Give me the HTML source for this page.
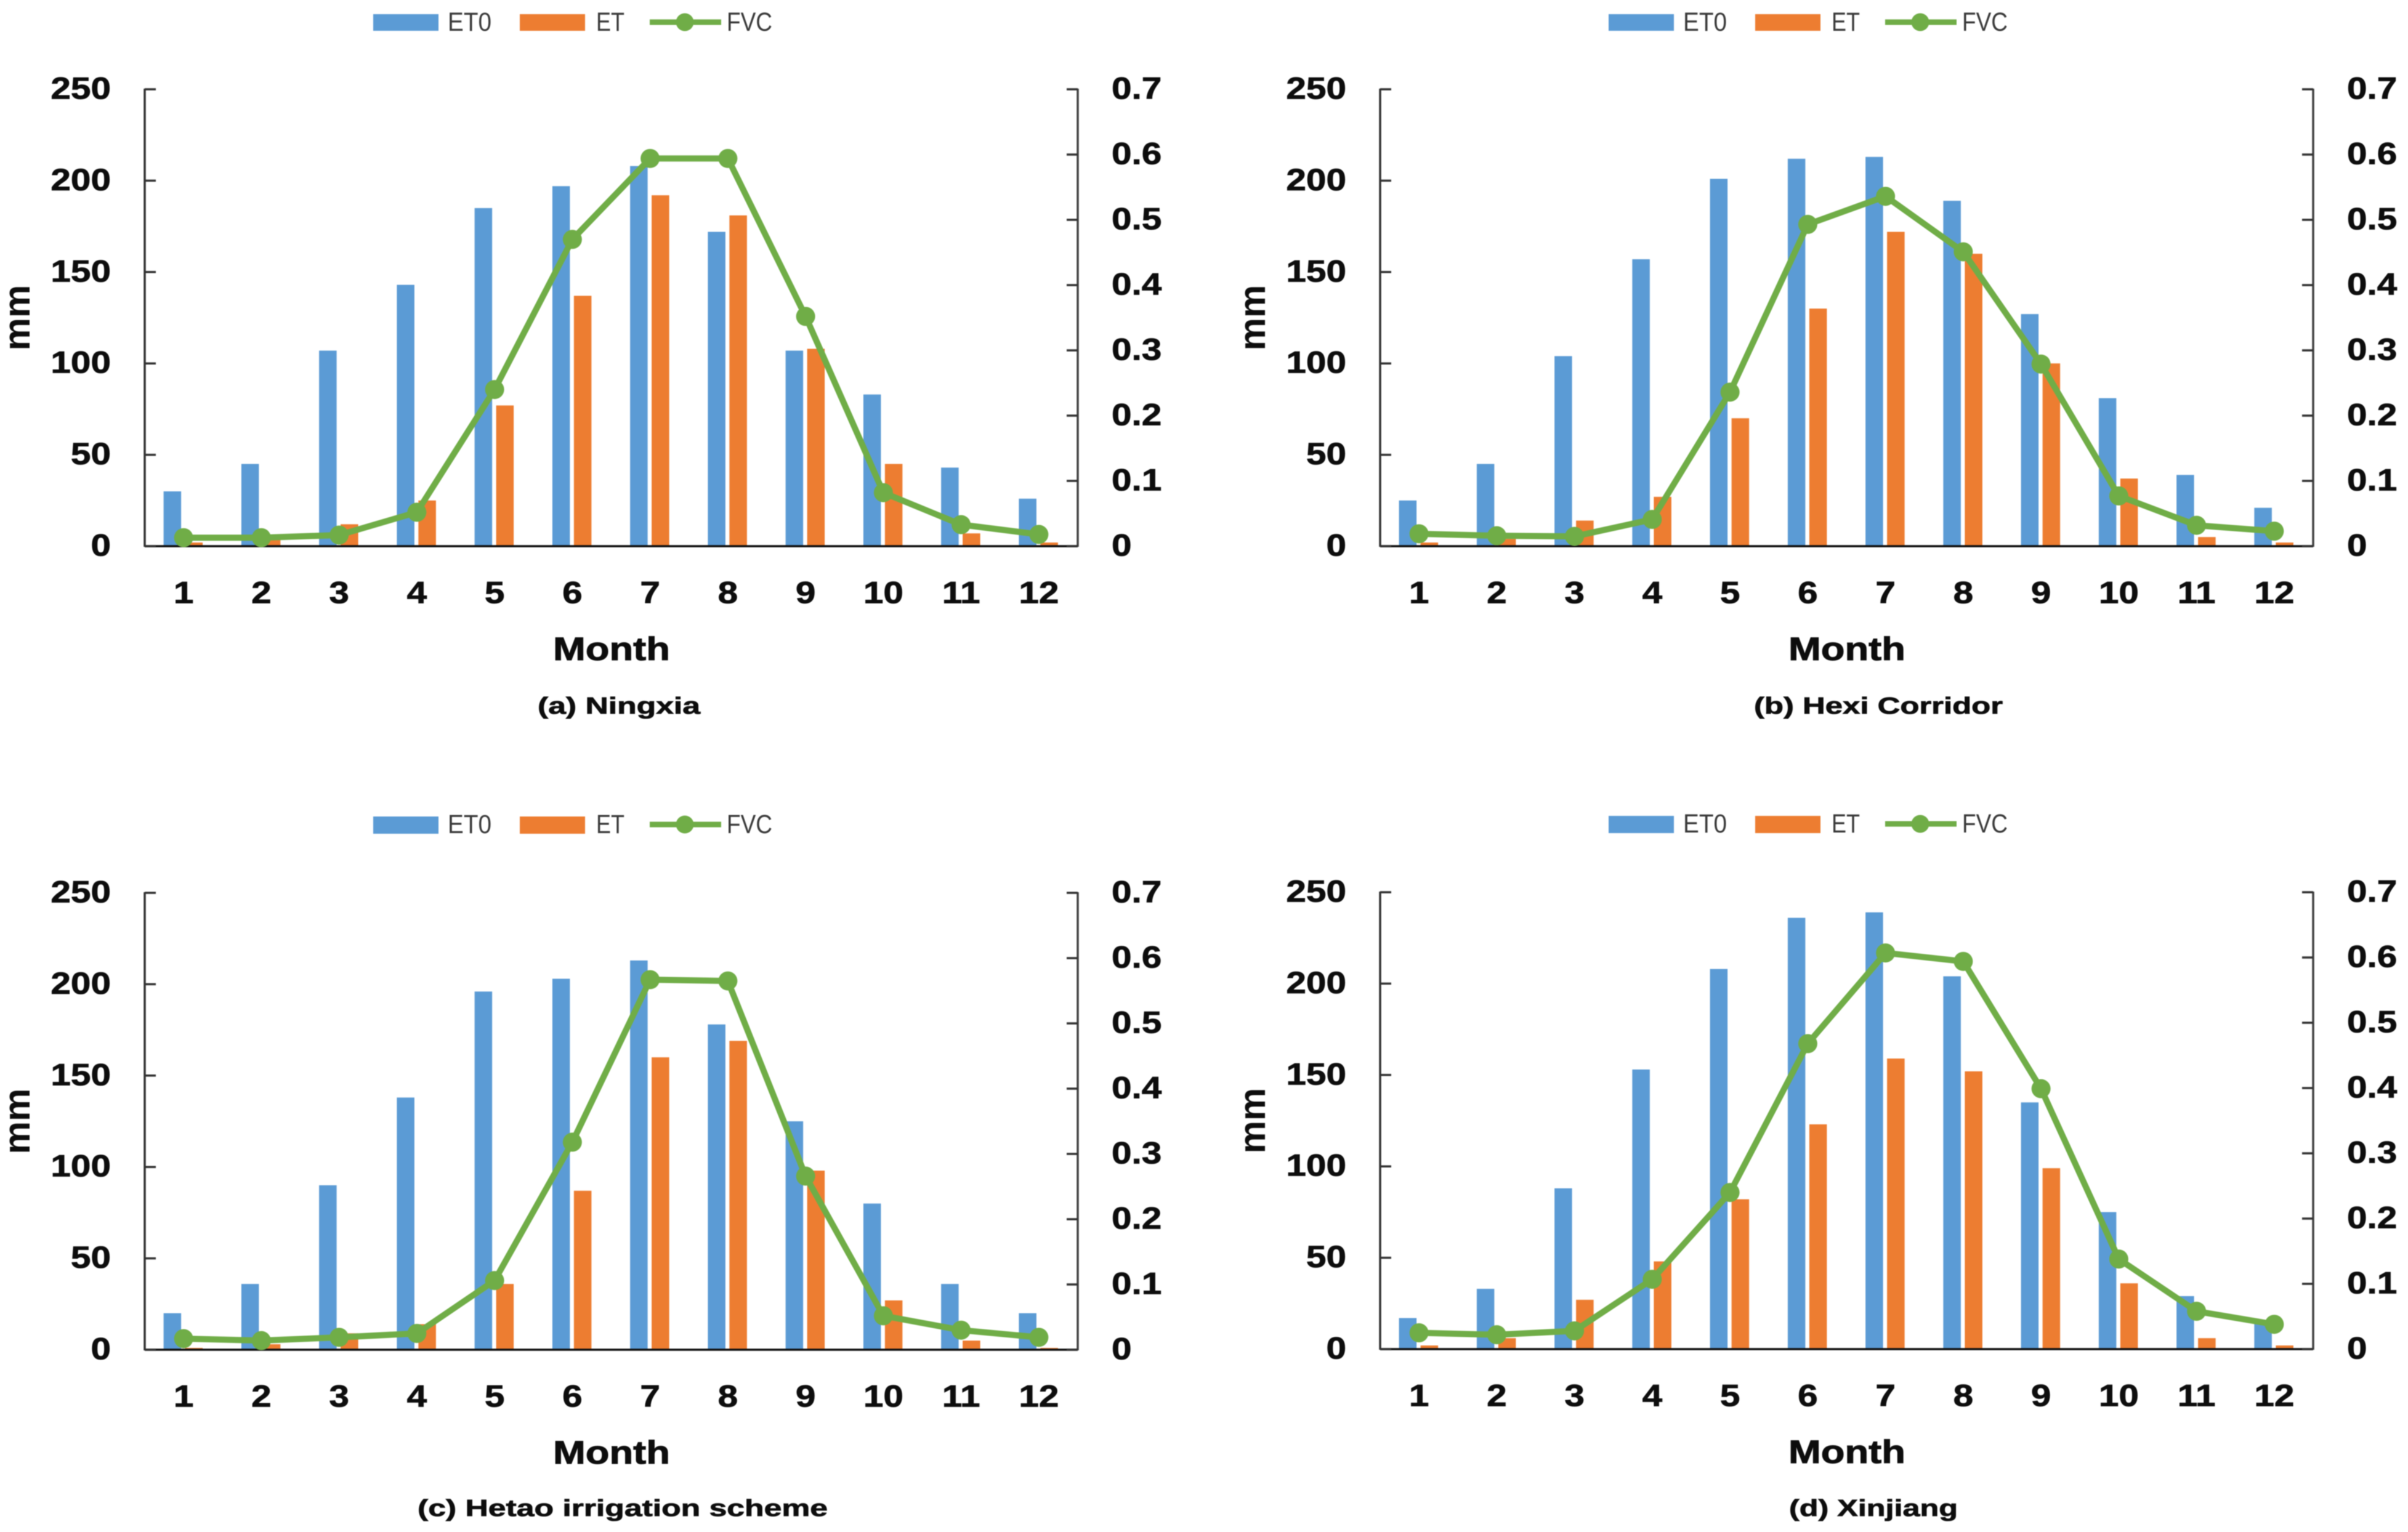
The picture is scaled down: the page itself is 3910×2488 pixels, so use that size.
<!DOCTYPE html>
<html lang="en">
<head>
<meta charset="utf-8">
<title>Monthly ET0, ET and FVC by region</title>
<style>
html,body{margin:0;padding:0;background:#fff;width:3910px;height:2488px;overflow:hidden}
svg{display:block;filter:blur(0.8px)}
text{font-family:"Liberation Sans",sans-serif;fill:#0d0d0d}
.legend-text{font-size:43px;fill:#3a3a3a}
.caption{font-size:38px;font-weight:700;stroke:#0d0d0d;stroke-width:0.8px}
.axis-title{font-size:53px;font-weight:700;stroke:#0d0d0d;stroke-width:1px}
.mm{font-size:60px;font-weight:700}
.tick{font-size:50px;font-weight:700;stroke:#0d0d0d;stroke-width:0.8px}
</style>
</head>
<body>
<svg xmlns="http://www.w3.org/2000/svg" width="3910" height="2488" viewBox="0 0 3910 2488">
<rect width="3910" height="2488" fill="#fff"/>

<g id="panel-a" transform="translate(0,0)">
  <g>
    <rect x="606" y="23" width="106" height="27" fill="#5B9BD5"/>
    <text class="legend-text" x="727" y="50" textLength="71" lengthAdjust="spacingAndGlyphs">ET0</text>
    <rect x="844" y="23" width="106" height="27" fill="#ED7D31"/>
    <text class="legend-text" x="968" y="50" textLength="46" lengthAdjust="spacingAndGlyphs">ET</text>
    <line x1="1055" x2="1171" y1="36" y2="36" stroke="#70AD47" stroke-width="9"/>
    <circle cx="1112" cy="36" r="14.5" fill="#70AD47"/>
    <text class="legend-text" x="1180" y="50" textLength="74" lengthAdjust="spacingAndGlyphs">FVC</text>
  </g>
  <text class="mm" transform="translate(48,516) rotate(-90)" text-anchor="middle">mm</text>
  <text class="axis-title" x="898" y="1072" textLength="190" lengthAdjust="spacingAndGlyphs">Month</text>
  <text class="caption" x="873" y="1159" textLength="264" lengthAdjust="spacingAndGlyphs">(a) Ningxia</text>
</g>

<g id="panel-b" transform="translate(2006,0)">
  <g>
    <rect x="606" y="23" width="106" height="27" fill="#5B9BD5"/>
    <text class="legend-text" x="727" y="50" textLength="71" lengthAdjust="spacingAndGlyphs">ET0</text>
    <rect x="844" y="23" width="106" height="27" fill="#ED7D31"/>
    <text class="legend-text" x="968" y="50" textLength="46" lengthAdjust="spacingAndGlyphs">ET</text>
    <line x1="1055" x2="1171" y1="36" y2="36" stroke="#70AD47" stroke-width="9"/>
    <circle cx="1112" cy="36" r="14.5" fill="#70AD47"/>
    <text class="legend-text" x="1180" y="50" textLength="74" lengthAdjust="spacingAndGlyphs">FVC</text>
  </g>
  <text class="mm" transform="translate(48,516) rotate(-90)" text-anchor="middle">mm</text>
  <text class="axis-title" x="898" y="1072" textLength="190" lengthAdjust="spacingAndGlyphs">Month</text>
  <text class="caption" x="842" y="1159" textLength="404" lengthAdjust="spacingAndGlyphs">(b) Hexi Corridor</text>
</g>

<g id="panel-c" transform="translate(0,1305)">
  <g>
    <rect x="606" y="21" width="106" height="28" fill="#5B9BD5"/>
    <text class="legend-text" x="727" y="48" textLength="71" lengthAdjust="spacingAndGlyphs">ET0</text>
    <rect x="844" y="21" width="106" height="28" fill="#ED7D31"/>
    <text class="legend-text" x="968" y="48" textLength="46" lengthAdjust="spacingAndGlyphs">ET</text>
    <line x1="1055" x2="1171" y1="34" y2="34" stroke="#70AD47" stroke-width="9"/>
    <circle cx="1112" cy="34" r="14.5" fill="#70AD47"/>
    <text class="legend-text" x="1180" y="48" textLength="74" lengthAdjust="spacingAndGlyphs">FVC</text>
  </g>
  <text class="mm" transform="translate(48,516) rotate(-90)" text-anchor="middle">mm</text>
  <text class="axis-title" x="898" y="1072" textLength="190" lengthAdjust="spacingAndGlyphs">Month</text>
  <text class="caption" x="678" y="1157" textLength="666" lengthAdjust="spacingAndGlyphs">(c) Hetao irrigation scheme</text>
</g>

<g id="panel-d" transform="translate(2006,1304)">
  <g>
    <rect x="606" y="21" width="106" height="28" fill="#5B9BD5"/>
    <text class="legend-text" x="727" y="48" textLength="71" lengthAdjust="spacingAndGlyphs">ET0</text>
    <rect x="844" y="21" width="106" height="28" fill="#ED7D31"/>
    <text class="legend-text" x="968" y="48" textLength="46" lengthAdjust="spacingAndGlyphs">ET</text>
    <line x1="1055" x2="1171" y1="34" y2="34" stroke="#70AD47" stroke-width="9"/>
    <circle cx="1112" cy="34" r="14.5" fill="#70AD47"/>
    <text class="legend-text" x="1180" y="48" textLength="74" lengthAdjust="spacingAndGlyphs">FVC</text>
  </g>
  <text class="mm" transform="translate(48,516) rotate(-90)" text-anchor="middle">mm</text>
  <text class="axis-title" x="898" y="1072" textLength="190" lengthAdjust="spacingAndGlyphs">Month</text>
  <text class="caption" x="899" y="1158" textLength="274" lengthAdjust="spacingAndGlyphs">(d) Xinjiang</text>
</g>
</svg>

<script>
const months = ['1','2','3','4','5','6','7','8','9','10','11','12'];
const leftTicks = [0,50,100,150,200,250];
const leftTickLabels = ['0','50','100','150','200','250'];
const rightTicks = [0,0.1,0.2,0.3,0.4,0.5,0.6,0.7];
const rightTickLabels = ['0','0.1','0.2','0.3','0.4','0.5','0.6','0.7'];

const ningxiaEt0 = [30,45,107,143,185,197,208,172,107,83,43,26];
const ningxiaEt  = [2,4,12,25,77,137,192,181,108,45,7,2];
const ningxiaFvc = [0.013,0.013,0.017,0.052,0.24,0.47,0.594,0.594,0.352,0.082,0.033,0.018];

const hexiEt0 = [25,45,104,157,201,212,213,189,127,81,39,21];
const hexiEt  = [2,4,14,27,70,130,172,160,100,37,5,2];
const hexiFvc = [0.019,0.016,0.015,0.041,0.236,0.493,0.536,0.451,0.279,0.077,0.032,0.023];

const hetaoEt0 = [20,36,90,138,196,203,213,178,125,80,36,20];
const hetaoEt  = [1,3,9,14,36,87,160,169,98,27,5,1];
const hetaoFvc = [0.017,0.014,0.019,0.025,0.106,0.318,0.567,0.565,0.266,0.052,0.03,0.019];

const xinjiangEt0 = [17,33,88,153,208,236,239,204,135,75,29,15];
const xinjiangEt  = [2,6,27,48,82,123,159,152,99,36,6,2];
const xinjiangFvc = [0.025,0.022,0.028,0.107,0.24,0.468,0.607,0.594,0.399,0.138,0.058,0.038];

const NS = 'http://www.w3.org/2000/svg';
const plot = {left:235, right:1750, top:145, base:887};
const yMaxLeft = 250;
const yMaxRight = 0.7;
const barWidth = 28.5;
const et0Offset = -32.5;
const etOffset = 2.5;
const STRETCH = 1.17;

function xCenter(i){ return plot.left + (plot.right - plot.left) * (i + 0.5) / months.length; }
function yLeft(v){ return plot.base - (plot.base - plot.top) * v / yMaxLeft; }
function yRight(v){ return plot.base - (plot.base - plot.top) * v / yMaxRight; }

function make(tag, attrs, parent){
  const el = document.createElementNS(NS, tag);
  for (const k in attrs) el.setAttribute(k, attrs[k]);
  parent.appendChild(el);
  return el;
}

function drawBars(g, values, offset, fill, label){
  values.forEach(function(v, i){
    const y = yLeft(v);
    const bar = make('rect', {x: xCenter(i) + offset, y: y, width: barWidth, height: plot.base - y, fill: fill}, g);
    
    
  });
}

function tickText(g, str, x, y, anchor, name){
  const t = make('text', {class: 'tick', 'text-anchor': anchor, transform: 'translate(' + x + ',' + y + ') scale(' + STRETCH + ',1)'}, g);
  t.textContent = str;
  
  
}

function drawPanel(id, et0, et, fvc){
  const g = document.getElementById(id);

  drawBars(g, et0, et0Offset, '#5B9BD5', 'et0');
  drawBars(g, et, etOffset, '#ED7D31', 'et');

  const leftAxis = make('line', {x1: plot.left, x2: plot.left, y1: plot.top - 1, y2: plot.base + 1, stroke: '#333', 'stroke-width': 3.5}, g);
  
  

  const rightAxis = make('line', {x1: plot.right, x2: plot.right, y1: plot.top - 1, y2: plot.base + 1, stroke: '#444', 'stroke-width': 3.5}, g);
  
  

  const xAxis = make('line', {x1: plot.left, x2: plot.right, y1: plot.base, y2: plot.base, stroke: '#111', 'stroke-width': 3.5}, g);
  
  

  leftTicks.forEach(function(v, i){
    const y = yLeft(v);
    const mark = make('line', {x1: plot.left, x2: plot.left + 18, y1: y, y2: y, stroke: '#333', 'stroke-width': 3.5}, g);
    
    
    tickText(g, leftTickLabels[i], plot.left - 55, y + 15.5, 'end', 'left-tick-label');
  });

  rightTicks.forEach(function(v, i){
    const y = yRight(v);
    const mark = make('line', {x1: plot.right - 18, x2: plot.right, y1: y, y2: y, stroke: '#333', 'stroke-width': 3.5}, g);
    
    
    tickText(g, rightTickLabels[i], plot.right + 55, y + 15.5, 'start', 'right-tick-label');
  });

  months.forEach(function(m, i){
    tickText(g, m, xCenter(i), plot.base + 92.5, 'middle', 'month-tick-label');
  });

  const pts = fvc.map(function(v, i){ return xCenter(i) + ',' + yRight(v); }).join(' ');
  const line = make('polyline', {points: pts, fill: 'none', stroke: '#70AD47', 'stroke-width': 10, 'stroke-linejoin': 'round'}, g);
  
  

  fvc.forEach(function(v, i){
    const dot = make('circle', {cx: xCenter(i), cy: yRight(v), r: 15.5, fill: '#70AD47'}, g);
    
    
  });
}

drawPanel('panel-a', ningxiaEt0, ningxiaEt, ningxiaFvc);
drawPanel('panel-b', hexiEt0, hexiEt, hexiFvc);
drawPanel('panel-c', hetaoEt0, hetaoEt, hetaoFvc);
drawPanel('panel-d', xinjiangEt0, xinjiangEt, xinjiangFvc);
</script>
</body>
</html>
